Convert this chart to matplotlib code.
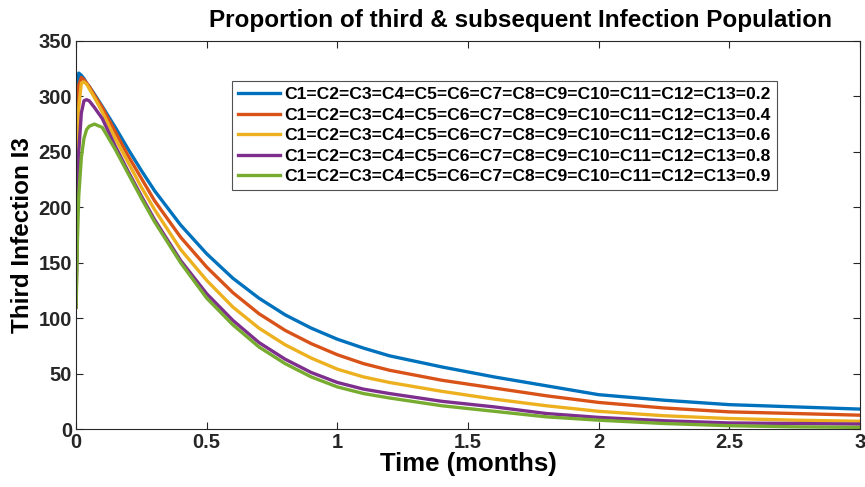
import matplotlib.pyplot as plt

plt.rcParams['font.family'] = ['Liberation Sans', 'DejaVu Sans']

# time (months) and third infection I3
t = [0, 0.005, 0.01, 0.02, 0.03, 0.04, 0.05, 0.07, 0.1, 0.15, 0.2, 0.25, 0.3,
     0.4, 0.5, 0.6, 0.7, 0.8, 0.9, 1.0, 1.1, 1.2, 1.4, 1.6, 1.8, 2.0, 2.25,
     2.5, 2.75, 3.0]

i3_02 = [110, 290, 321, 319, 316, 312, 309, 302, 291, 272, 252, 233, 215,
         184, 158, 136, 118, 103, 91, 81, 73, 66, 56, 47, 39, 31, 26, 22, 20,
         18]
i3_04 = [110, 270, 310, 317, 315, 312, 309, 301, 290, 268, 246, 226, 206,
         173, 146, 123, 104, 89, 77, 67, 59, 53, 44, 37, 30, 24, 19, 15.5, 14,
         12.5]
i3_06 = [110, 240, 290, 312, 313, 311, 307, 299, 286, 262, 240, 218, 198,
         162, 134, 110, 91, 76, 64, 54, 47, 42, 34, 27, 21, 16, 12, 9.5, 8, 7]
i3_08 = [110, 200, 250, 285, 296, 297, 296, 290, 280, 255, 232, 210, 189,
         152, 122, 98, 78, 63, 51, 42, 36, 32, 25, 20, 14, 10.5, 7.5, 5.5, 5,
         4.5]
i3_09 = [110, 170, 210, 245, 262, 270, 273, 275, 272, 252, 230, 208, 187,
         150, 118, 94, 74, 59, 47, 38, 32, 28, 21, 16, 11, 8, 5, 3, 2, 1.5]

labels = ['C1=C2=C3=C4=C5=C6=C7=C8=C9=C10=C11=C12=C13=0.2',
          'C1=C2=C3=C4=C5=C6=C7=C8=C9=C10=C11=C12=C13=0.4',
          'C1=C2=C3=C4=C5=C6=C7=C8=C9=C10=C11=C12=C13=0.6',
          'C1=C2=C3=C4=C5=C6=C7=C8=C9=C10=C11=C12=C13=0.8',
          'C1=C2=C3=C4=C5=C6=C7=C8=C9=C10=C11=C12=C13=0.9']
colors = ['#0072BD', '#D95319', '#EDB120', '#7E2F8E', '#77AC30']

fig = plt.figure(figsize=(8.65, 4.87), dpi=100)
ax = fig.add_axes([0.088, 0.119, 0.906, 0.797])

for y, lab, c in zip([i3_02, i3_04, i3_06, i3_08, i3_09], labels, colors):
    ax.plot(t, y, color=c, lw=2.4, label=lab)

ax.set_xlim(0, 3)
ax.set_ylim(0, 350)
ax.set_xticks([0, 0.5, 1, 1.5, 2, 2.5, 3])
ax.set_xticklabels(['0', '0.5', '1', '1.5', '2', '2.5', '3'])
ax.set_yticks(range(0, 351, 50))
ax.tick_params(direction='in', top=True, right=True, labelsize=14.5,
               length=5, width=0.8, colors='#262626', pad=3)
for lab in ax.get_xticklabels() + ax.get_yticklabels():
    lab.set_fontweight('bold')
for s in ax.spines.values():
    s.set_color('#262626')
    s.set_linewidth(0.8)

ax.set_xlabel('Time (months)', fontsize=18.5, fontweight='bold', labelpad=0)
ax.set_ylabel('Third Infection I3', fontsize=17.5, fontweight='bold', labelpad=3)
fig.text(0.602, 0.958, 'Proportion of third & subsequent Infection Population',
         ha='center', va='center', fontsize=17.5, fontweight='bold',
         color='black')

leg = ax.legend(loc='upper left', bbox_to_anchor=(0.199, 0.897),
                prop={'weight': 'bold', 'size': 12.6}, frameon=True,
                fancybox=False, edgecolor='#262626', handlelength=2.4,
                handletextpad=0.25, labelspacing=0.3, borderpad=0.35,
                borderaxespad=0)
leg.get_frame().set_linewidth(0.8)

fig.savefig('out.png', dpi=100)
